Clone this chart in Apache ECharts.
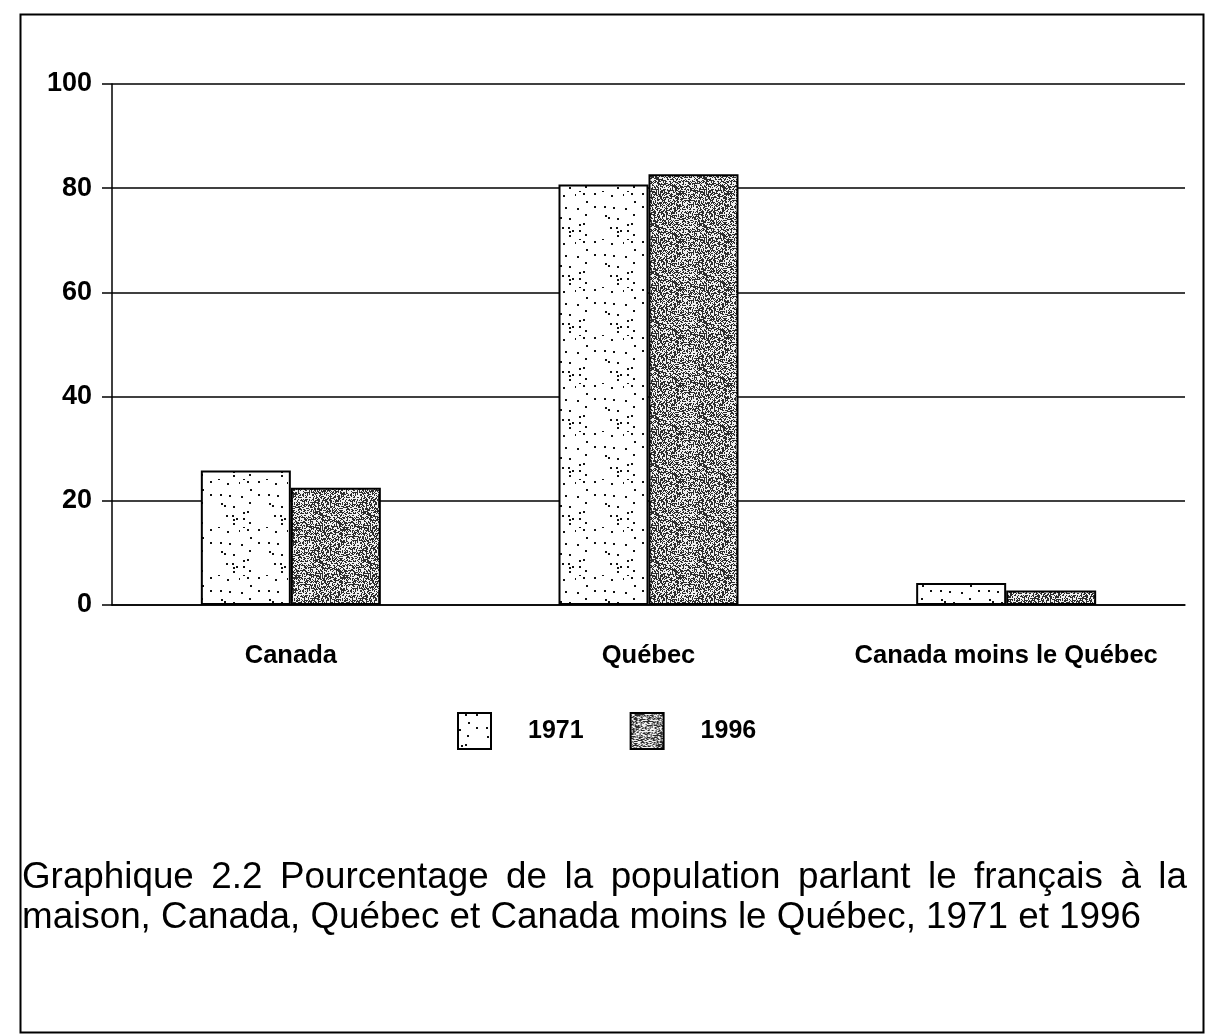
<!DOCTYPE html>
<html>
<head>
<meta charset="utf-8">
<script src="https://cdn.jsdelivr.net/npm/echarts@6/dist/echarts.min.js"></script>
<style>
  html, body { margin: 0; padding: 0; background: #fff; }
  #chart { width: 1205px; height: 1036px; }
</style>
</head>
<body>
<div id="chart"></div>
<script>
const categories = ["Canada", "Québec", "Canada moins le Québec"];
const years = ["1971", "1996"];
const values1971 = [25.8, 80.7, 4.2];
const values1996 = [22.5, 82.7, 2.8];
const captionLines = [
  "Graphique 2.2 Pourcentage de la population parlant le français à la",
  "maison, Canada, Québec et Canada moins le Québec, 1971 et 1996"
];

// petite texture pointillée (1971) et trame grise dense (1996)
function makeTile(kind) {
  const c = document.createElement("canvas");
  c.width = 48; c.height = 48;
  const ctx = c.getContext("2d");
  ctx.fillStyle = "#fff";
  ctx.fillRect(0, 0, 48, 48);
  let s = kind === "dots" ? 7 : 13;
  const next = () => { s = (s * 1103515245 + 12345) % 2147483648; return s / 2147483648; };
  if (kind === "dots") {
    ctx.fillStyle = "#111";
    for (let i = 0; i < 24; i++) {
      ctx.fillRect(Math.floor(next() * 48), Math.floor(next() * 48), 2, 2);
    }
  } else {
    for (let y = 0; y < 48; y++) {
      for (let x = 0; x < 48; x++) {
        const v = next() < 0.48 ? 45 : 240;
        ctx.fillStyle = "rgb(" + v + "," + v + "," + v + ")";
        ctx.fillRect(x, y, 1, 1);
      }
    }
  }
  return c;
}

// légende en bas : première ligne justifiée comme dans l'original
const capFont = "36.8px 'Liberation Sans', Arial, sans-serif";
function justifiedLine(text, x0, x1, top) {
  const ctx = document.createElement("canvas").getContext("2d");
  ctx.font = capFont;
  const words = text.split(" ");
  const widths = words.map(w => ctx.measureText(w).width);
  const total = widths.reduce((a, b) => a + b, 0);
  const gap = (x1 - x0 - total) / (words.length - 1);
  let x = x0;
  return words.map((w, i) => {
    const el = { type: "text", x: x, y: top, style: { text: w, fill: "#000", font: capFont } };
    x += widths[i] + gap;
    return el;
  });
}

const chart = echarts.init(document.getElementById("chart"));
const font = "'Liberation Sans', Arial, sans-serif";

const option = {
  backgroundColor: "#fff",
  animation: false,
  grid: { left: 112, right: 20, top: 84, bottom: 431, containLabel: false },
  xAxis: {
    type: "category",
    data: categories,
    axisLine: { lineStyle: { color: "#000", width: 1.5 } },
    axisTick: { alignWithLabel: true, length: 16, lineStyle: { color: "#000", width: 1.5 } },
    axisLabel: { interval: 0, color: "#000", fontFamily: font, fontWeight: "bold", fontSize: 25.5, margin: 38 }
  },
  yAxis: {
    type: "value",
    min: 0, max: 100, interval: 20,
    axisLine: { show: true, lineStyle: { color: "#000", width: 1.5 } },
    axisTick: { show: true, length: 10, lineStyle: { color: "#000", width: 1.5 } },
    axisLabel: { color: "#000", fontFamily: font, fontWeight: "bold", fontSize: 27, margin: 20 },
    splitLine: { lineStyle: { color: "#000", width: 1.5 } }
  },
  legend: {
    data: years,
    left: 457, top: 712, padding: 0,
    itemWidth: 33, itemHeight: 36, itemGap: 46,
    textStyle: { color: "#000", fontFamily: font, fontWeight: "bold", fontSize: 25, padding: [0, 0, 0, 32] },
    icon: "rect"
  },
  series: [
    {
      name: years[0], type: "bar", data: values1971,
      barWidth: 90, barGap: "0%",
      itemStyle: { color: { image: makeTile("dots"), repeat: "repeat" }, borderColor: "#000", borderWidth: 2 }
    },
    {
      name: years[1], type: "bar", data: values1996,
      barWidth: 90,
      itemStyle: { color: { image: makeTile("gray"), repeat: "repeat" }, borderColor: "#000", borderWidth: 2 }
    }
  ],
  graphic: [
    {
      type: "rect", left: 18, top: 12,
      shape: { width: 1183, height: 1018 },
      style: { fill: "none", stroke: "#000", lineWidth: 2 }
    },
    ...justifiedLine(captionLines[0], 22, 1187, 859),
    {
      type: "text", x: 22, y: 899,
      style: { text: captionLines[1], fill: "#000", font: capFont }
    }
  ]
};

chart.setOption(option);
window.onresize = function () {
  chart.resize();
};
</script>
</body>
</html>
